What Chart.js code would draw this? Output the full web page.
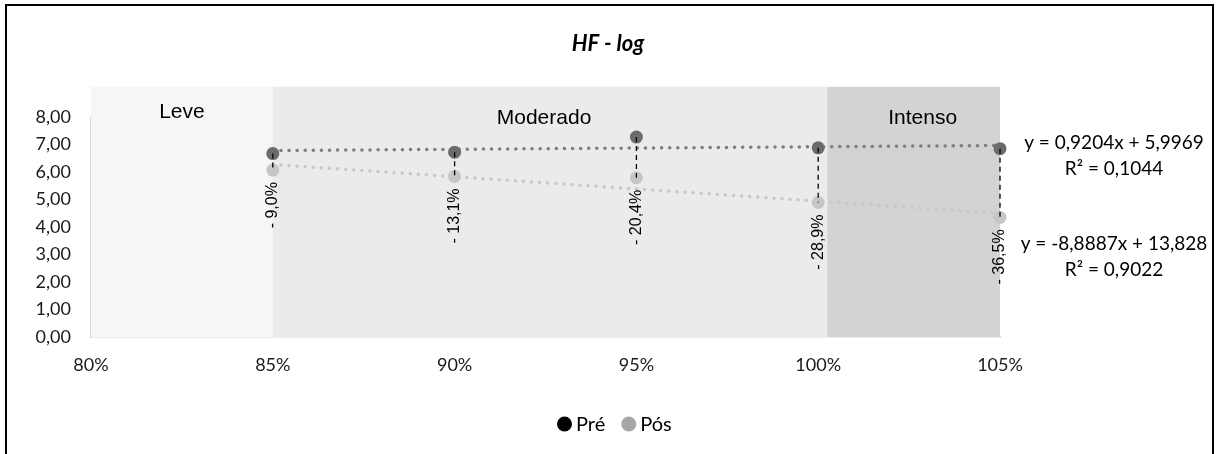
<!DOCTYPE html>
<html>
<head>
<meta charset="utf-8">
<script src="https://cdn.jsdelivr.net/npm/chart.js@4.4.1/dist/chart.umd.min.js"></script>
<style>
  html, body { margin: 0; padding: 0; background: #ffffff; }
  canvas { display: block; }
</style>
</head>
<body>
<canvas id="hf" width="1218" height="454"></canvas>
<script>
// Relative intensity (x) and HF-log values before / after exercise
const intensities = [0.85, 0.90, 0.95, 1.00, 1.05];
const preValues   = [6.67, 6.72, 7.27, 6.88, 6.85];
const posValues   = [6.07, 5.84, 5.79, 4.89, 4.35];

// Axis ticks
const xTicks = [0.80, 0.85, 0.90, 0.95, 1.00, 1.05];
const yTicks = [0, 1, 2, 3, 4, 5, 6, 7, 8];

// Linear trend coefficients (slope, intercept, R²)
const preTrend = [0.9204, 5.9969, 0.1044];
const posTrend = [-8.8887, 13.828, 0.9022];

// Intensity zones
const zoneNames  = ['Leve', 'Moderado', 'Intenso'];
const zoneStart  = [0.80, 0.85, 1.0025];
const zoneEnd    = [0.85, 1.0025, 1.05];
const zoneColors = ['#f6f6f6', '#ebebeb', '#d3d3d3'];
const zoneTop    = 9.1;

const seriesNames = ['Pré', 'Pós'];

const fmt = (v, d) => v.toFixed(d).replace('.', ',');
const trendPoints = (c) => [intensities[0], intensities[intensities.length - 1]]
  .map(x => ({ x: x, y: c[0] * x + c[1] }));

const SANS = 'Lato, "Open Sans", "DejaVu Sans", sans-serif';
const ARIAL = '"Liberation Sans", Arial, sans-serif';

const decorations = {
  id: 'decorations',
  beforeDatasetsDraw(chart) {
    const { ctx, scales: { x, y } } = chart;
    ctx.save();
    for (let i = 0; i < zoneNames.length; i++) {
      const x0 = x.getPixelForValue(zoneStart[i]);
      const x1 = x.getPixelForValue(zoneEnd[i]);
      const y0 = y.getPixelForValue(zoneTop);
      const y1 = y.getPixelForValue(0);
      ctx.fillStyle = zoneColors[i];
      ctx.fillRect(x0, y0, x1 - x0, y1 - y0);
    }
    ctx.fillStyle = '#000';
    ctx.font = '21px ' + ARIAL;
    ctx.textAlign = 'center';
    ctx.textBaseline = 'middle';
    const yTop = y.getPixelForValue(zoneTop);
    const offs = [25, 31, 31];
    const shift = [0, -6, 9];
    for (let i = 0; i < zoneNames.length; i++) {
      const cx = (x.getPixelForValue(zoneStart[i]) + x.getPixelForValue(zoneEnd[i])) / 2 + shift[i];
      ctx.fillText(zoneNames[i], cx, yTop + offs[i]);
    }
    ctx.restore();
  },
  afterDatasetsDraw(chart) {
    const { ctx, scales: { x, y } } = chart;
    ctx.save();
    // connectors between the pre and post values
    ctx.strokeStyle = '#000';
    ctx.lineWidth = 1.3;
    ctx.setLineDash([5, 4]);
    for (let i = 0; i < intensities.length; i++) {
      const px = x.getPixelForValue(intensities[i]);
      ctx.beginPath();
      ctx.moveTo(px, y.getPixelForValue(preValues[i]));
      ctx.lineTo(px, y.getPixelForValue(posValues[i]));
      ctx.stroke();
    }
    ctx.setLineDash([]);
    // percentage change labels
    ctx.fillStyle = '#000';
    ctx.font = '16px ' + ARIAL;
    ctx.textAlign = 'right';
    ctx.textBaseline = 'middle';
    for (let i = 0; i < intensities.length; i++) {
      const pct = (posValues[i] / preValues[i] - 1) * 100;
      const label = (pct < 0 ? '- ' : '') + fmt(Math.abs(pct), 1) + '%';
      const px = x.getPixelForValue(intensities[i]);
      const py = y.getPixelForValue(posValues[i]);
      ctx.save();
      ctx.translate(px, py + 12);
      ctx.rotate(-Math.PI / 2);
      ctx.fillText(label, 0, 0);
      ctx.restore();
    }
    ctx.restore();
  },
  afterDraw(chart) {
    const { ctx, chartArea } = chart;
    ctx.save();
    // frame
    ctx.strokeStyle = '#000';
    ctx.lineWidth = 2;
    ctx.beginPath();
    ctx.moveTo(6, 460);
    ctx.lineTo(6, 5);
    ctx.lineTo(1213, 5);
    ctx.lineTo(1213, 460);
    ctx.stroke();
    // title
    ctx.fillStyle = '#000';
    ctx.textAlign = 'center';
    ctx.textBaseline = 'middle';
    ctx.font = 'italic bold 22px ' + SANS;
    ctx.fillText('HF - log', 608, 44);
    // trend equations
    ctx.font = '19px ' + SANS;
    const ex = chartArea.right + 114;
    const eqs = [preTrend, posTrend];
    const eqY = [143, 244];
    eqs.forEach((c, k) => {
      const sign = c[1] >= 0 ? ' + ' : ' - ';
      ctx.fillText('y = ' + fmt(c[0], 4) + 'x' + sign + String(Math.abs(c[1])).replace('.', ','), ex, eqY[k]);
      ctx.fillText('R² = ' + fmt(c[2], 4), ex, eqY[k] + 26);
    });
    // legend
    const legendColors = ['#000000', '#a6a6a6'];
    ctx.font = '20px ' + SANS;
    ctx.textAlign = 'left';
    let lx = 557;
    const ly = 424;
    seriesNames.forEach((name, k) => {
      ctx.fillStyle = legendColors[k];
      ctx.beginPath();
      ctx.arc(lx + 7.5, ly, 7.5, 0, Math.PI * 2);
      ctx.fill();
      ctx.fillStyle = '#000';
      ctx.fillText(name, lx + 19, ly + 1);
      lx += 19 + ctx.measureText(name).width + 16;
    });
    ctx.restore();
  }
};

new Chart(document.getElementById('hf'), {
  type: 'scatter',
  data: {
    datasets: [
      {
        label: seriesNames[0],
        data: intensities.map((v, i) => ({ x: v, y: preValues[i] })),
        backgroundColor: '#6b6b6b',
        borderWidth: 0,
        pointRadius: 6.5,
        clip: false,
        order: 0
      },
      {
        label: seriesNames[1],
        data: intensities.map((v, i) => ({ x: v, y: posValues[i] })),
        backgroundColor: '#c6c6c6',
        borderWidth: 0,
        pointRadius: 6.5,
        clip: false,
        order: 0
      },
      {
        type: 'line',
        label: 'Linear (' + seriesNames[0] + ')',
        data: trendPoints(preTrend),
        borderColor: '#7f7f7f',
        borderWidth: 3.5,
        borderDash: [0.1, 8],
        borderCapStyle: 'round',
        pointRadius: 0,
        fill: false,
        clip: false,
        order: 2
      },
      {
        type: 'line',
        label: 'Linear (' + seriesNames[1] + ')',
        data: trendPoints(posTrend),
        borderColor: '#c9c9c9',
        borderWidth: 3.5,
        borderDash: [0.1, 8],
        borderCapStyle: 'round',
        pointRadius: 0,
        fill: false,
        clip: false,
        order: 2
      }
    ]
  },
  options: {
    responsive: false,
    devicePixelRatio: 1,
    animation: false,
    layout: { padding: { left: 0, top: 117, right: 218, bottom: 77 } },
    plugins: {
      legend: { display: false },
      tooltip: { enabled: false },
      title: { display: false }
    },
    scales: {
      x: {
        type: 'linear',
        min: xTicks[0],
        max: xTicks[xTicks.length - 1],
        afterBuildTicks: (s) => { s.ticks = xTicks.map(v => ({ value: v })); },
        afterFit: (s) => { s.height = 40; },
        grid: { display: false, drawTicks: false },
        border: { display: true, color: '#d9d9d9', width: 1.5 },
        ticks: {
          padding: 17,
          color: '#1a1a1a',
          font: { family: SANS, size: 18 },
          callback: (v) => Math.round(v * 100) + '%'
        }
      },
      y: {
        type: 'linear',
        min: yTicks[0],
        max: yTicks[yTicks.length - 1],
        afterBuildTicks: (s) => { s.ticks = yTicks.map(v => ({ value: v })); },
        afterFit: (s) => { s.width = 91; },
        grid: { display: false, drawTicks: false },
        border: { display: true, color: '#d9d9d9', width: 1.5 },
        ticks: {
          padding: 20,
          color: '#1a1a1a',
          font: { family: SANS, size: 18 },
          callback: (v) => fmt(v, 2)
        }
      }
    }
  },
  plugins: [decorations]
});
</script>
</body>
</html>
